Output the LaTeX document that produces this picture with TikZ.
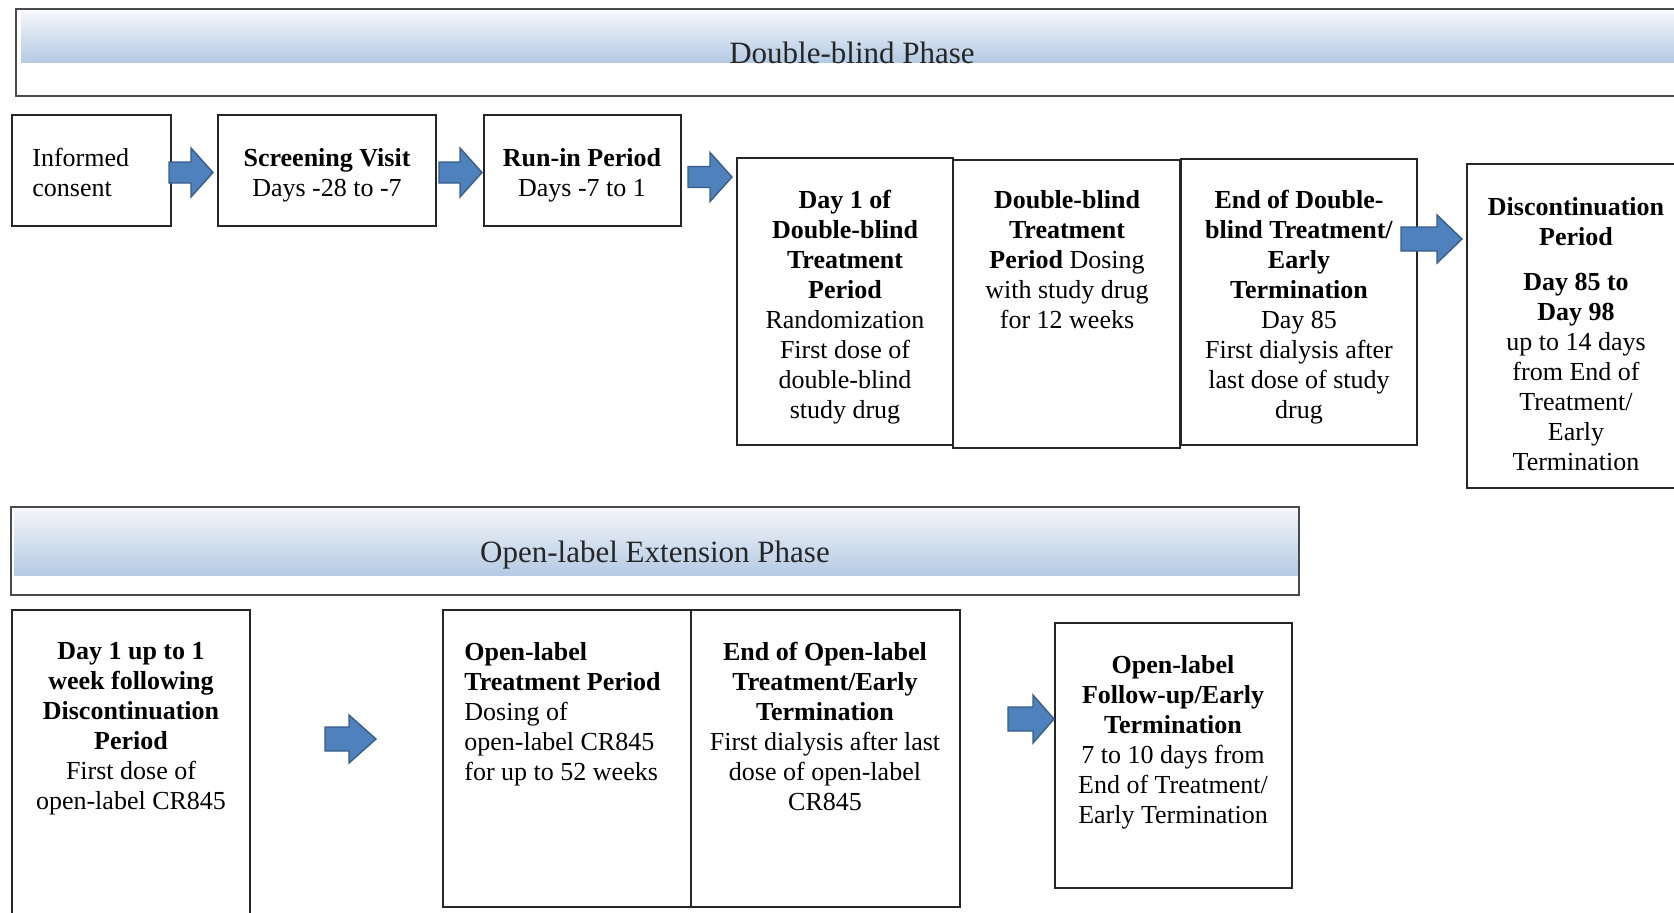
\documentclass[tikz,border=0pt]{standalone}
\usepackage{fontspec}
\setmainfont{Liberation Serif}
\definecolor{arrowblue}{HTML}{4F81BD}
\definecolor{arrowedge}{HTML}{385D8A}
\definecolor{bandtop}{HTML}{F3F6FA}
\definecolor{bandbot}{HTML}{B5CAE4}
\definecolor{frame}{HTML}{4A4A4A}
\tikzset{
  box/.style={draw=black!85, line width=0.75pt, rectangle, inner sep=0pt, outer sep=0pt},
  txt/.style={align=center, inner sep=0pt, font=\fontsize{13}{15}\selectfont},
  ltxt/.style={align=left, inner sep=0pt, font=\fontsize{13}{15}\selectfont},
  phasetxt/.style={inner sep=0pt, font=\fontsize{15.5}{18}\selectfont, text=black!85},
  band/.style={top color=bandtop, bottom color=bandbot, draw=none},
  bandframe/.style={draw=frame, line width=1pt},
  barrowsty/.style={fill=arrowblue, draw=arrowedge, line width=0.7pt, line join=miter},
}
\newcommand{\mybox}[5]{\node[box, minimum width={(#4-#2)*0.5pt}, minimum height={(#5-#3)*0.5pt}] (#1) at ({(#2+#4)/2},{(#3+#5)/2}) {};}
% name, x start, x head, x tip, y centre, shaft half, head half
\newcommand{\barrow}[7]{%
  \path[barrowsty] (#2,#5-#6) -- (#3,#5-#6) -- (#3,#5-#7) -- (#4,#5) -- (#3,#5+#7) -- (#3,#5+#6) -- (#2,#5+#6) -- cycle;
  \coordinate (#1) at (#4,#5);}
\begin{document}
\begin{tikzpicture}[x=0.5pt,y=-0.5pt]
\useasboundingbox (0,0) rectangle (1674,912);
\clip (0,0) rectangle (1674,912);

% ---------- Double-blind phase banner ----------
\fill[white] (16,9) rectangle (1700,96);
\path[band] (21,12) rectangle (1700,62);
\draw[bandframe] (16,9) rectangle (1700,96);
\node[phasetxt, anchor=base] (dbphase) at (852,63) {Double-blind Phase};

% ---------- Row 1 ----------
\mybox{ic}{12}{115}{171}{226}
\node[ltxt, anchor=north west] (ic-t) at (32,148) {Informed\\consent};

\mybox{sv}{218}{115}{436}{226}
\node[txt, anchor=north] (sv-t) at (327,148) {\textbf{Screening Visit}\\Days -28 to -7};

\mybox{ri}{484}{115}{681}{226}
\node[txt, anchor=north] (ri-t) at (582,148) {\textbf{Run-in Period}\\Days -7 to 1};

\mybox{d1}{737}{158}{953}{445}
\node[txt, anchor=north] (d1-t) at (845,190) {\textbf{Day 1 of}\\\textbf{Double-blind}\\\textbf{Treatment}\\\textbf{Period}\\Randomization\\First dose of\\double-blind\\study drug};

\mybox{dbt}{953}{160}{1180}{448}
\node[txt, anchor=north] (dbt-t) at (1067,190) {\textbf{Double-blind}\\\textbf{Treatment}\\\textbf{Period} Dosing\\with study drug\\for 12 weeks};

\mybox{edb}{1181}{159}{1417}{445}
\node[txt, anchor=north] (edb-t) at (1299,190) {\textbf{End of Double-}\\\textbf{blind Treatment/}\\\textbf{Early}\\\textbf{Termination}\\Day 85\\First dialysis after\\last dose of study\\drug};

\mybox{dp}{1467}{164}{1686}{488}
\node[txt, anchor=north] (dp-t) at (1576,197) {\textbf{Discontinuation}\\\textbf{Period}\\[7.5pt]\textbf{Day 85 to}\\\textbf{Day 98}\\up to 14 days\\from End of\\Treatment/\\Early\\Termination};

\barrow{a1}{169}{191}{213}{172.5}{10.5}{24.5}
\barrow{a2}{439}{460}{482}{172.5}{10.5}{24.5}
\barrow{a3}{688}{710}{732}{177}{10.5}{24.5}
\barrow{a4}{1401}{1437}{1462}{239}{12}{24}

% ---------- Open-label extension banner ----------
\fill[white] (11,507) rectangle (1299,595);
\path[band] (14,509) rectangle (1299,575);
\draw[bandframe] (11,507) rectangle (1299,595);
\node[phasetxt, anchor=base] (olphase) at (655,562) {Open-label Extension Phase};

% ---------- Row 2 ----------
\mybox{ol1}{12}{610}{250}{940}
\node[txt, anchor=north] (ol1-t) at (131,642) {\textbf{Day 1 up to 1}\\\textbf{week following}\\\textbf{Discontinuation}\\\textbf{Period}\\First dose of\\open-label CR845};

\mybox{olt}{443}{610}{691}{907}
\node[ltxt, anchor=north west] (olt-t) at (464,642) {\textbf{Open-label}\\\textbf{Treatment Period}\\Dosing of\\open-label CR845\\for up to 52 weeks};

\mybox{eol}{691}{610}{960}{907}
\node[txt, anchor=north] (eol-t) at (825,642) {\textbf{End of Open-label}\\\textbf{Treatment/Early}\\\textbf{Termination}\\First dialysis after last\\dose of open-label\\CR845};

\mybox{fu}{1055}{623}{1292}{888}
\node[txt, anchor=north] (fu-t) at (1173,655) {\textbf{Open-label}\\\textbf{Follow-up/Early}\\\textbf{Termination}\\7 to 10 days from\\End of Treatment/\\Early Termination};

\barrow{b1}{325}{349}{376}{739}{12}{24}
\barrow{b2}{1008}{1033}{1054}{719}{12}{24}
\end{tikzpicture}
\end{document}
